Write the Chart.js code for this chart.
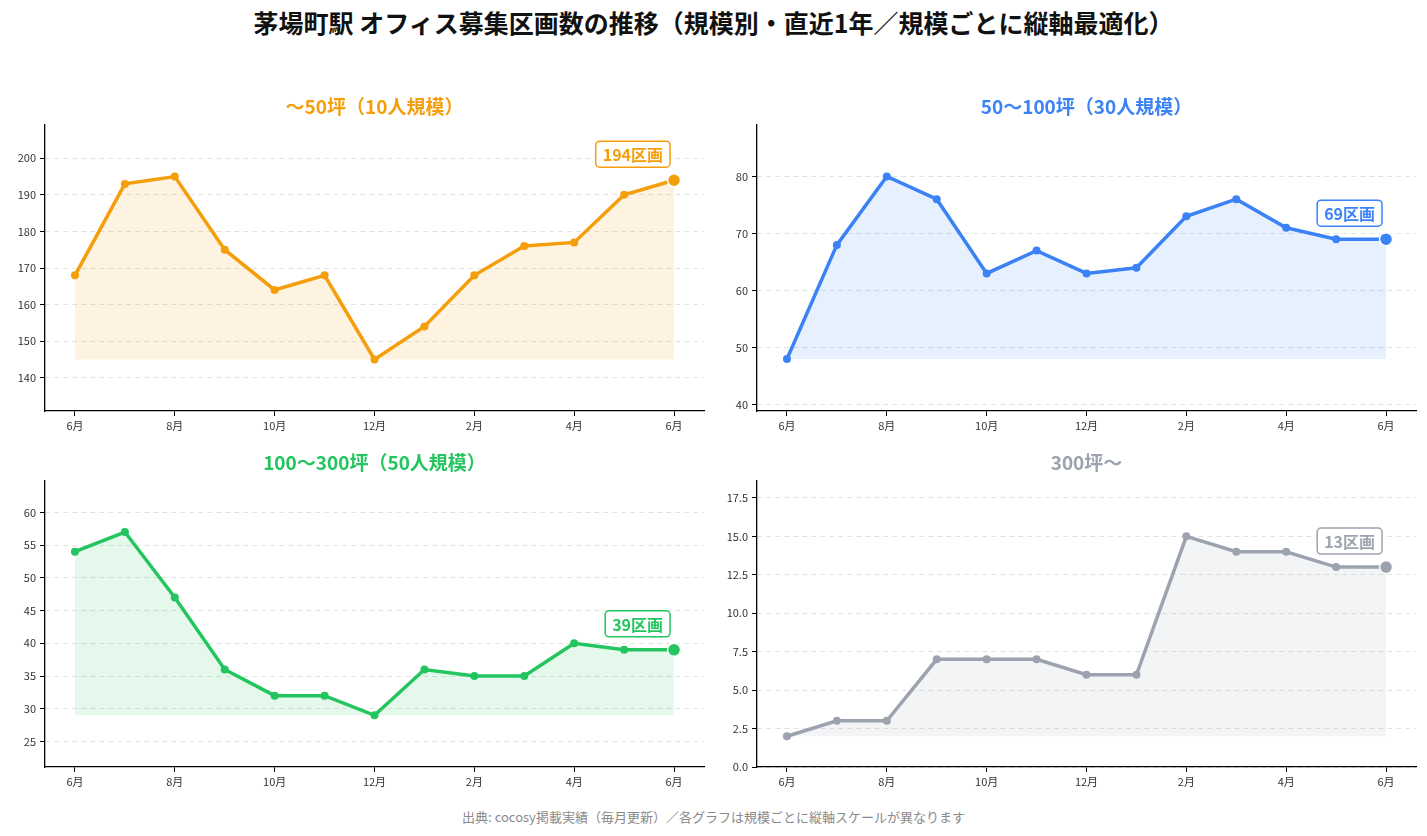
<!DOCTYPE html>
<html lang="ja">
<head>
<meta charset="utf-8">
<script src="https://cdn.jsdelivr.net/npm/chart.js@4"></script>
<style>
  html, body { margin:0; padding:0; background:#fff; }
  body { width:1427px; height:836px; position:relative; overflow:hidden;
         font-family:"Noto Sans CJK JP","Noto Sans",sans-serif; }
  #title { position:absolute; left:0; width:1427px; top:5px; text-align:center;
           font-size:25px; font-weight:bold; color:#111; line-height:34px; }
  #footer { position:absolute; left:0; width:1427px; top:807px; text-align:center;
            font-size:13px; color:#8a8a8a; line-height:19px; }
  .pane { position:absolute; width:714px; height:370px; }
  .pane canvas { width:714px; height:370px; }
</style>
</head>
<body>
<div id="title">茅場町駅 オフィス募集区画数の推移（規模別・直近1年／規模ごとに縦軸最適化）</div>
<div class="pane" style="left:0px;top:80px;"><canvas id="c1" width="714" height="370"></canvas></div>
<div class="pane" style="left:712px;top:80px;"><canvas id="c2" width="714" height="370"></canvas></div>
<div class="pane" style="left:0px;top:436px;"><canvas id="c3" width="714" height="370"></canvas></div>
<div class="pane" style="left:712px;top:436px;"><canvas id="c4" width="714" height="370"></canvas></div>
<div id="footer">出典: cocosy掲載実績（毎月更新）／各グラフは規模ごとに縦軸スケールが異なります</div>
<script>
// ---- data ----
const months = ["6月","7月","8月","9月","10月","11月","12月","1月","2月","3月","4月","5月","6月"];
const xTickIndex = [0, 2, 4, 6, 8, 10, 12];

const titles = ["〜50坪（10人規模）", "50〜100坪（30人規模）", "100〜300坪（50人規模）", "300坪〜"];
const colors = ["#f59e0b", "#3b82f6", "#22c55e", "#9ca3af"];

const small    = [168, 193, 195, 175, 164, 168, 145, 154, 168, 176, 177, 190, 194];
const medium   = [48, 68, 80, 76, 63, 67, 63, 64, 73, 76, 71, 69, 69];
const large    = [54, 57, 47, 36, 32, 32, 29, 36, 35, 35, 40, 39, 39];
const xlarge   = [2, 3, 3, 7, 7, 7, 6, 6, 15, 14, 14, 13, 13];

const yTicks1 = [140, 150, 160, 170, 180, 190, 200];
const yTicks2 = [40, 50, 60, 70, 80];
const yTicks3 = [25, 30, 35, 40, 45, 50, 55, 60];
const yTicks4 = [0, 2.5, 5, 7.5, 10, 12.5, 15, 17.5];

const yRange1 = [130.9, 209.1];
const yRange2 = [38.9, 89.0];
const yRange3 = [21.1, 64.8];
const yRange4 = [0, 18.6];

// ---- helpers ----
const FONT = '"Noto Sans CJK JP","Noto Sans",sans-serif';

function hexA(hex, a) {
  const n = parseInt(hex.slice(1), 16);
  return `rgba(${(n>>16)&255},${(n>>8)&255},${n&255},${a})`;
}

const panelPlugin = {
  id: 'panelDeco',
  afterDraw(chart) {
    const o = chart.options.plugins.panelDeco;
    const ctx = chart.ctx;
    const ca = chart.chartArea;
    ctx.save();
    // subplot title
    ctx.font = `bold 19px ${FONT}`;
    ctx.fillStyle = o.color;
    ctx.textAlign = 'center';
    ctx.textBaseline = 'middle';
    ctx.fillText(o.title, (ca.left + ca.right) / 2, ca.top - 18);
    // last value badge
    const meta = chart.getDatasetMeta(0);
    const last = meta.data[meta.data.length - 1];
    const vals = chart.data.datasets[0].data;
    const text = vals[vals.length - 1].y + '区画';
    ctx.font = `bold 16px ${FONT}`;
    const tw = ctx.measureText(text).width;
    const padX = 7, h = 26;
    const right = last.x - 4;
    const w = tw + padX * 2;
    const left = right - w;
    const cy = last.y - 26;
    const top = cy - h / 2;
    ctx.beginPath();
    ctx.roundRect(left, top, w, h, 4);
    ctx.fillStyle = '#ffffff';
    ctx.fill();
    ctx.lineWidth = 1.5;
    ctx.strokeStyle = o.color;
    ctx.stroke();
    ctx.fillStyle = o.color;
    ctx.textAlign = 'center';
    ctx.textBaseline = 'middle';
    ctx.fillText(text, left + w / 2, cy + 1);
    ctx.restore();
  }
};

function makePanel(id, values, color, title, yTicks, yRange, decimals) {
  const n = values.length;
  const pts = values.map((v, i) => ({ x: i, y: v }));
  const minVal = Math.min(...values);
  const radius = values.map((v, i) => i === n - 1 ? 6.5 : 4);
  const bw = values.map((v, i) => i === n - 1 ? 1.5 : 0);
  const bc = values.map((v, i) => i === n - 1 ? '#ffffff' : color);
  new Chart(document.getElementById(id), {
    type: 'line',
    data: {
      datasets: [{
        data: pts,
        borderColor: color,
        backgroundColor: hexA(color, 0.12),
        borderWidth: 3.5,
        fill: { value: minVal },
        pointRadius: radius,
        pointBackgroundColor: color,
        pointBorderColor: bc,
        pointBorderWidth: bw,
        tension: 0,
        clip: false
      }]
    },
    options: {
      responsive: false,
      animation: false,
      devicePixelRatio: 1,
      layout: { autoPadding: false, padding: { left: 0, right: 10, top: 45, bottom: 9 } },
      plugins: {
        legend: { display: false },
        tooltip: { enabled: false },
        title: { display: false },
        panelDeco: { color, title }
      },
      scales: {
        x: {
          type: 'linear',
          min: -0.6,
          max: 12.6,
          afterBuildTicks: s => { s.ticks = xTickIndex.map(v => ({ value: v })); },
          afterFit: s => { s.height = 30; },
          ticks: {
            callback: v => months[v] ?? '',
            font: { family: FONT, size: 11 },
            color: '#333',
            padding: 3,
            maxRotation: 0,
            autoSkip: false
          },
          grid: { drawOnChartArea: false, drawTicks: true, tickLength: 5, tickColor: '#000', tickWidth: 1 },
          border: { display: true, color: '#000', width: 1.3 }
        },
        y: {
          type: 'linear',
          min: yRange[0],
          max: yRange[1],
          afterBuildTicks: s => { s.ticks = yTicks.map(v => ({ value: v })); },
          afterFit: s => { s.width = 45; },
          ticks: {
            callback: v => decimals ? Number(v).toFixed(decimals) : String(v),
            font: { family: FONT, size: 11 },
            color: '#333',
            padding: 4,
            autoSkip: false
          },
          grid: { drawOnChartArea: true, drawTicks: true, tickLength: 5, color: '#e2e2e2', lineWidth: 1, tickColor: '#000', tickWidth: 1 },
          border: { display: true, color: '#000', width: 1.3, dash: [5, 4] }
        }
      }
    },
    plugins: [panelPlugin]
  });
}

makePanel('c1', small,  colors[0], titles[0], yTicks1, yRange1, 0);
makePanel('c2', medium, colors[1], titles[1], yTicks2, yRange2, 0);
makePanel('c3', large,  colors[2], titles[2], yTicks3, yRange3, 0);
makePanel('c4', xlarge, colors[3], titles[3], yTicks4, yRange4, 1);
</script>
</body>
</html>
